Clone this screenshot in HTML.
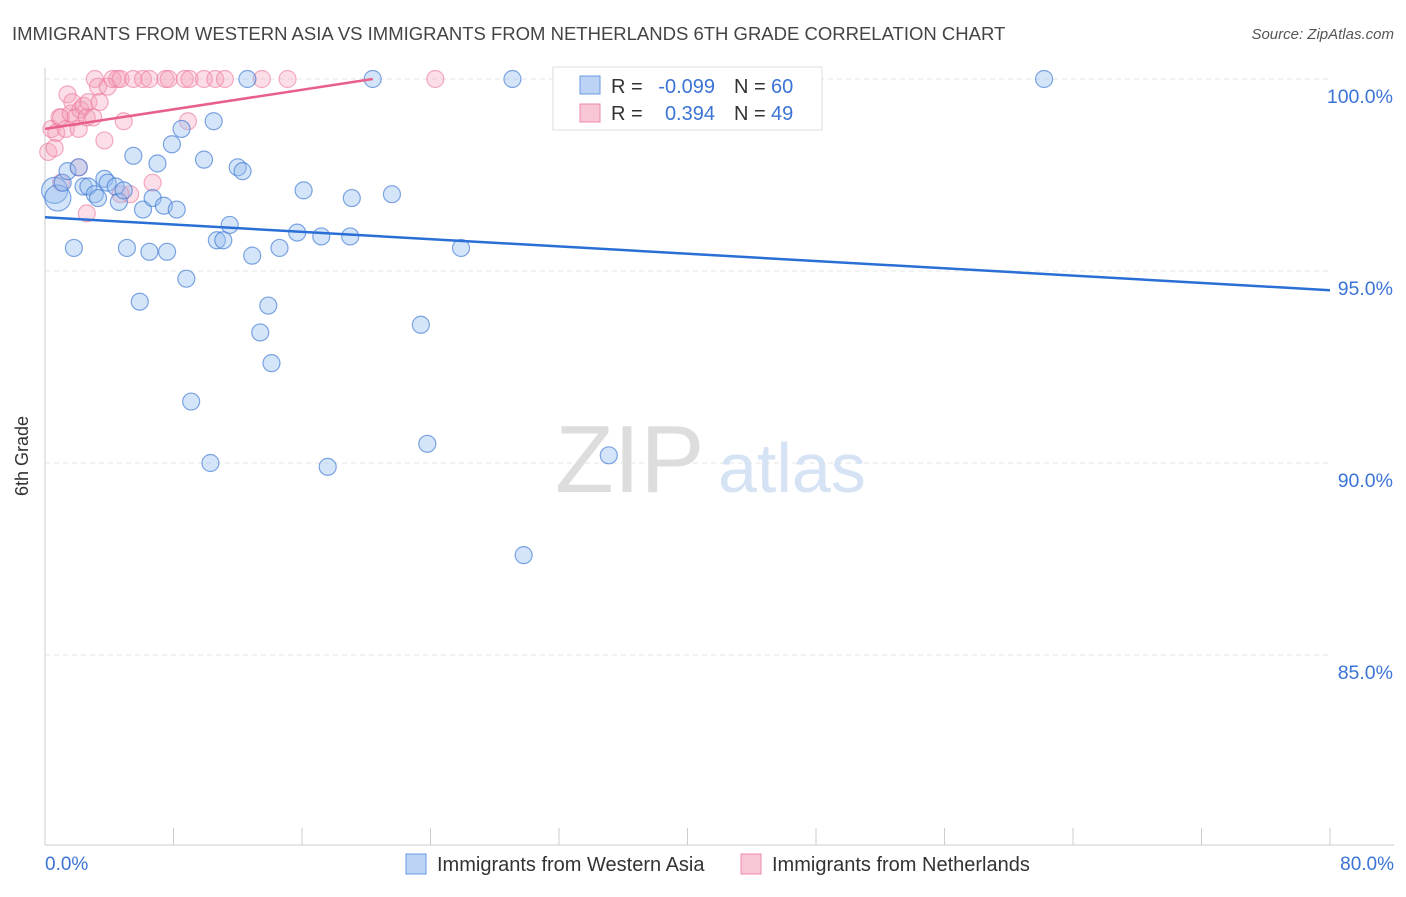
<!DOCTYPE html>
<html><head><meta charset="utf-8"><style>
body{margin:0;background:#fff;font-family:"Liberation Sans",sans-serif}
svg text{font-family:"Liberation Sans",sans-serif}
</style></head><body>
<svg width="1406" height="892">
<text x="12" y="40" font-size="18.5" fill="#444">IMMIGRANTS FROM WESTERN ASIA VS IMMIGRANTS FROM NETHERLANDS 6TH GRADE CORRELATION CHART</text>
<text x="1394" y="39" font-size="15" fill="#555" font-style="italic" text-anchor="end">Source: ZipAtlas.com</text>
<g id="grid"></g>
<line x1="45" y1="68" x2="45" y2="845" stroke="#ccc"/>
<line x1="45" y1="845" x2="1394" y2="845" stroke="#ccc"/>
<text x="28" y="456" font-size="18" fill="#333" text-anchor="middle" transform="rotate(-90 28 456)">6th Grade</text>
<text x="45" y="870" font-size="19" fill="#3b74d6">0.0%</text>
<text x="1394" y="870" font-size="19" fill="#3b74d6" text-anchor="end">80.0%</text>
<text x="555" y="492" font-size="96" fill="#ddd" font-family="Liberation Serif">ZIP</text>
<text x="718" y="492" font-size="70" fill="#d5e3f5">atlas</text>
<g id="pts"></g>
<g>
<rect x="553" y="67" width="269" height="63" fill="#fff" stroke="#ddd"/>
<rect x="580" y="76" width="20" height="18" fill="#bcd3f5" stroke="#6a9be0"/>
<rect x="580" y="104" width="20" height="18" fill="#f8c6d5" stroke="#ec8aa8"/>
<text x="611" y="93" font-size="20" fill="#333">R =</text>
<text x="715" y="93" font-size="20" fill="#3b74d6" text-anchor="end">-0.099</text>
<text x="734" y="93" font-size="20" fill="#333">N =</text>
<text x="771" y="93" font-size="20" fill="#3b74d6">60</text>
<text x="611" y="120" font-size="20" fill="#333">R =</text>
<text x="715" y="120" font-size="20" fill="#3b74d6" text-anchor="end">0.394</text>
<text x="734" y="120" font-size="20" fill="#333">N =</text>
<text x="771" y="120" font-size="20" fill="#3b74d6">49</text>
</g>
<g>
<rect x="406" y="854" width="20" height="20" fill="#bcd3f5" stroke="#6a9be0"/>
<text x="437" y="871" font-size="20" fill="#333">Immigrants from Western Asia</text>
<rect x="741" y="854" width="20" height="20" fill="#f8c6d5" stroke="#ec8aa8"/>
<text x="772" y="871" font-size="20" fill="#333">Immigrants from Netherlands</text>
</g>
</svg>
<script>
const yTicks=[100,95,90,85];
const xTicks=[0,8,16,24,32,40,48,56,64,72,80];
const blueX=[0.6,0.8,1.1,1.4,1.8,2.1,2.4,2.7,3.1,3.3,3.7,3.9,4.4,4.6,4.9,5.1,5.5,5.9,6.1,6.5,6.7,7.0,7.4,7.6,7.9,8.2,8.5,8.8,9.1,9.9,10.3,10.5,10.7,11.1,11.5,12.0,12.3,12.6,12.9,13.4,13.9,14.1,14.6,15.7,16.1,17.2,17.6,19.0,19.1,20.4,21.6,23.4,23.8,25.9,29.1,29.8,35.1,62.2,42.3];
const blueY=[97.1,96.9,97.3,97.6,95.6,97.7,97.2,97.2,97.0,96.9,97.4,97.3,97.2,96.8,97.1,95.6,98.0,94.2,96.6,95.5,96.9,97.8,96.7,95.5,98.3,96.6,98.7,94.8,91.6,97.9,90.0,98.9,95.8,95.8,96.2,97.7,97.6,100,95.4,93.4,94.1,92.6,95.6,96.0,97.1,95.9,89.9,95.9,96.9,100,97.0,93.6,90.5,95.6,100,87.6,90.2,100,100];
const pinkX=[0.2,0.4,0.6,0.7,0.9,1.0,1.3,1.4,1.6,1.7,1.9,2.1,2.2,2.4,2.6,2.6,2.7,3.0,3.1,3.3,3.4,3.7,3.9,4.2,4.5,4.7,4.9,5.3,5.5,6.1,6.5,6.7,7.5,7.7,8.7,8.9,9.0,9.9,10.6,11.2,13.5,15.1,24.3,2.1,4.7,1.0,33.0];
const pinkY=[98.1,98.7,98.2,98.6,99.0,99.0,98.7,99.6,99.1,99.4,99.0,98.7,99.2,99.3,96.5,99.0,99.4,99.0,100,99.8,99.4,98.4,99.8,100,100,100,98.9,97.0,100,100,100,97.3,100,100,100,98.9,100,100,100,100,100,100,100,97.7,97.0,97.3,100];
const big=[0,1];
const ns="http://www.w3.org/2000/svg";
const X=v=>45+v/80*1285, Y=v=>79+(100-v)*38.4;
const grid=document.getElementById('grid'),pts=document.getElementById('pts');
yTicks.forEach(t=>{const l=document.createElementNS(ns,'line');


l.setAttribute('x1',45);l.setAttribute('x2',1330);l.setAttribute('y1',Y(t));l.setAttribute('y2',Y(t));l.setAttribute('stroke','#e4e4e4');l.setAttribute('stroke-dasharray','5,4');grid.appendChild(l);
const tx=document.createElementNS(ns,'text');


tx.setAttribute('x',1393);tx.setAttribute('y',Y(t)+24);tx.setAttribute('text-anchor','end');tx.setAttribute('font-size','19.5');tx.setAttribute('fill','#3b74d6');tx.textContent=t.toFixed(1)+'%';grid.appendChild(tx);});
xTicks.forEach(t=>{const l=document.createElementNS(ns,'line');


l.setAttribute('x1',X(t));l.setAttribute('x2',X(t));l.setAttribute('y1',828);l.setAttribute('y2',845);l.setAttribute('stroke','#ccc');grid.appendChild(l);});
function dot(x,y,r,f,s){const c=document.createElementNS(ns,'circle');


c.setAttribute('cx',X(x));c.setAttribute('cy',Y(y));c.setAttribute('r',r);c.setAttribute('fill',f);c.setAttribute('stroke',s);c.setAttribute('stroke-width',1.2);pts.appendChild(c);}
pinkX.forEach((x,i)=>dot(x,pinkY[i],8.5,'rgba(244,160,185,0.35)','rgba(236,120,155,0.6)'));
blueX.forEach((x,i)=>dot(x,blueY[i],big.includes(i)?13:8.5,'rgba(150,190,240,0.4)','rgba(60,120,210,0.65)'));
function line(x1,y1,x2,y2,c,n){const l=document.createElementNS(ns,'line');


l.setAttribute('x1',X(x1));l.setAttribute('y1',Y(y1));l.setAttribute('x2',X(x2));l.setAttribute('y2',Y(y2));l.setAttribute('stroke',c);l.setAttribute('stroke-width',2.5);pts.appendChild(l);}
line(0,96.4,80,94.5,'#2a6fd6','blue-trend-line');
line(0,98.7,20.4,100,'#e8608a','pink-trend-line');
</script>
</body></html>
